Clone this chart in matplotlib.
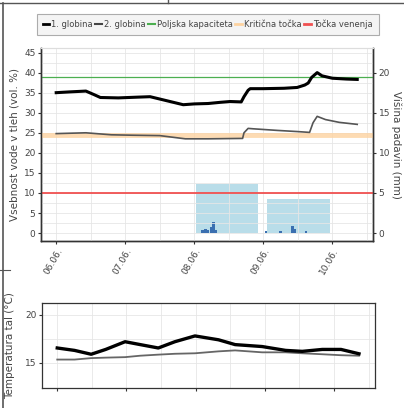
import numpy as np
import matplotlib.pyplot as plt
from matplotlib.lines import Line2D

# soil water content (vol. %), days since 06.06.
days1 = [0, 0.2, 0.43, 0.55, 0.64, 0.9, 1.2, 1.36, 1.6, 1.84, 2.0, 2.2, 2.38, 2.52,
         2.68, 2.72, 2.78, 2.81, 3.0, 3.3, 3.49, 3.6, 3.65, 3.7, 3.78, 3.85, 4.0, 4.2, 4.36]
vals1 = [35.0, 35.2, 35.4, 34.5, 33.8, 33.7, 33.9, 34.0, 33.0, 32.0, 32.2, 32.3, 32.6, 32.8,
         32.7, 34.0, 35.6, 36.0, 36.0, 36.1, 36.3, 36.9, 37.4, 38.8, 40.0, 39.2, 38.6, 38.4, 38.3]
days2 = [0, 0.43, 0.8, 1.1, 1.5, 1.87, 2.2, 2.7, 2.72, 2.78, 2.85, 3.2, 3.5, 3.67,
         3.72, 3.78, 3.9, 4.1, 4.36]
vals2 = [24.8, 25.0, 24.5, 24.4, 24.3, 23.5, 23.5, 23.6, 25.0, 26.1, 26.0, 25.6, 25.3, 25.1,
         27.5, 29.1, 28.3, 27.6, 27.1]

poljska_kap = 39.0
kriticna = 24.5
venenje = 10.0

# precipitation (mm)
rain_day = [2.48, 3.51]
rain_day_val = [6.1, 4.2]
rain_h = [2.12, 2.16, 2.2, 2.24, 2.28, 2.31, 3.04, 3.25, 3.42, 3.45, 3.62]
rain_h_val = [0.4, 0.5, 0.4, 0.8, 1.4, 0.4, 0.3, 0.2, 0.9, 0.5, 0.3]

# soil temperature (°C)
tdays = [0, 0.25, 0.49, 0.7, 0.98, 1.2, 1.46, 1.7, 1.99, 2.33, 2.57, 2.96, 3.3, 3.54, 3.83, 4.1, 4.36]
temp1 = [16.55, 16.3, 15.9, 16.4, 17.2, 16.9, 16.55, 17.2, 17.8, 17.4, 16.9, 16.7, 16.3, 16.2, 16.4, 16.4, 15.95]
temp2 = [15.35, 15.35, 15.5, 15.55, 15.6, 15.75, 15.86, 15.95, 16.0, 16.2, 16.3, 16.1, 16.1, 16.0, 15.9, 15.8, 15.75]

xticks = [0, 1, 2, 3, 4]
xlabels = ['06.06.', '07.06.', '08.06.', '09.06.', '10.06.']

fig = plt.figure(figsize=(4.04, 4.08), dpi=100)
grid_c = '#e6e6e6'
tick_c = '#333333'

ax = fig.add_axes([0.1015, 0.409, 0.822, 0.473])
ax2 = ax.twinx()
ax.set_zorder(ax2.get_zorder() + 1)
ax.patch.set_visible(False)

ax2.bar(rain_day, rain_day_val, width=0.9, color='#add8e6', alpha=0.85, zorder=1)
ax2.bar(rain_h, rain_h_val, width=0.035, color='#3a6fb0', zorder=2)

ax.axhline(poljska_kap, color='#4caf50', lw=0.9)
ax.axhline(kriticna, color='#fdd3a0', lw=3.5, alpha=0.8)
ax.axhline(venenje, color='#f05050', lw=1.3)
ax.plot(days2, vals2, color='#555555', lw=1.2)
ax.plot(days1, vals1, color='black', lw=2.2)

xlim = (-0.22, 4.59)
ax.set_xlim(xlim)
ax.set_ylim(-2, 46.1)
ax2.set_ylim(-1, 23.05)
ax.set_yticks(np.arange(0, 46, 5))
ax2.set_yticks([0, 5, 10, 15, 20])
ax.set_yticks(np.arange(2.5, 46, 5), minor=True)
ax.set_xticks(xticks)
ax.set_xticklabels(xlabels, rotation=60, ha='right', va='top', rotation_mode='anchor')
ax.set_xticks(np.arange(0.5, 4.6, 1), minor=True)
ax.grid(True, which='both', color=grid_c, lw=0.6)
for a in (ax, ax2):
    a.tick_params(labelsize=6.5, length=2, pad=2, colors=tick_c, labelcolor='#444444')
    a.tick_params(which='minor', length=0)
    for s in ['left', 'right', 'bottom']:
        a.spines[s].set_color('#333333')
        a.spines[s].set_linewidth(1.0)
    a.spines['top'].set_color('#dddddd')
ax.set_ylabel('Vsebnost vode v tleh (vol. %)', fontsize=7.5, color='#444444', labelpad=3)
ax2.set_ylabel('Višina padavin (mm)', fontsize=7.5, color='#444444', rotation=270, labelpad=8)

handles = [
    Line2D([], [], color='black', lw=2),
    Line2D([], [], color='#444444', lw=1.5),
    Line2D([], [], color='#4caf50', lw=1.5),
    Line2D([], [], color='#fdd3a0', lw=2),
    Line2D([], [], color='#f05050', lw=2),
]
labels = ['1. globina', '2. globina', 'Poljska kapaciteta', 'Kritična točka', 'Točka venenja']
leg = fig.legend(handles, labels, loc='center', bbox_to_anchor=(0.514, 0.94), ncol=5,
                 fontsize=6, handlelength=0.8, handletextpad=0.25, columnspacing=0.3,
                 frameon=True, fancybox=False, borderpad=0.7)
leg.get_frame().set_facecolor('#f2f2f2')
leg.get_frame().set_edgecolor('#999999')
leg.get_frame().set_linewidth(0.8)
for t in leg.get_texts():
    t.set_color('#444444')

# temperature panel
axt = fig.add_axes([0.104, 0.049, 0.824, 0.208])
axt.plot(tdays, temp2, color='#666666', lw=1.3)
axt.plot(tdays, temp1, color='black', lw=2.4)
axt.set_xlim(xlim)
axt.set_ylim(12.4, 21.2)
axt.set_yticks([15, 20])
axt.set_yticks([17.5], minor=True)
axt.set_xticks(xticks)
axt.set_xticklabels([])
axt.set_xticks(np.arange(0.5, 4.6, 1), minor=True)
axt.grid(True, which='both', color=grid_c, lw=0.6)
axt.tick_params(labelsize=6.5, length=2, pad=2, colors=tick_c, labelcolor='#444444')
axt.tick_params(which='minor', length=0)
for s in axt.spines.values():
    s.set_color('#333333')
    s.set_linewidth(0.9)
axt.set_ylabel('Temperatura tal (°C)', fontsize=7.5, color='#444444', labelpad=7)

# page frame lines from the scan
fig.add_artist(Line2D([0, 1], [1 - 3 / 408, 1 - 3 / 408], color='#555555', lw=1.0))
fig.add_artist(Line2D([168 / 404, 168 / 404], [1, 1 - 3 / 408], color='#555555', lw=1.0))
fig.add_artist(Line2D([3 / 404, 3 / 404], [0, 1 - 3 / 408], color='#555555', lw=1.2))
fig.add_artist(Line2D([0, 10 / 404], [1 - 270 / 408, 1 - 270 / 408], color='#555555', lw=0.8))

fig.savefig('out.png', dpi=100)
